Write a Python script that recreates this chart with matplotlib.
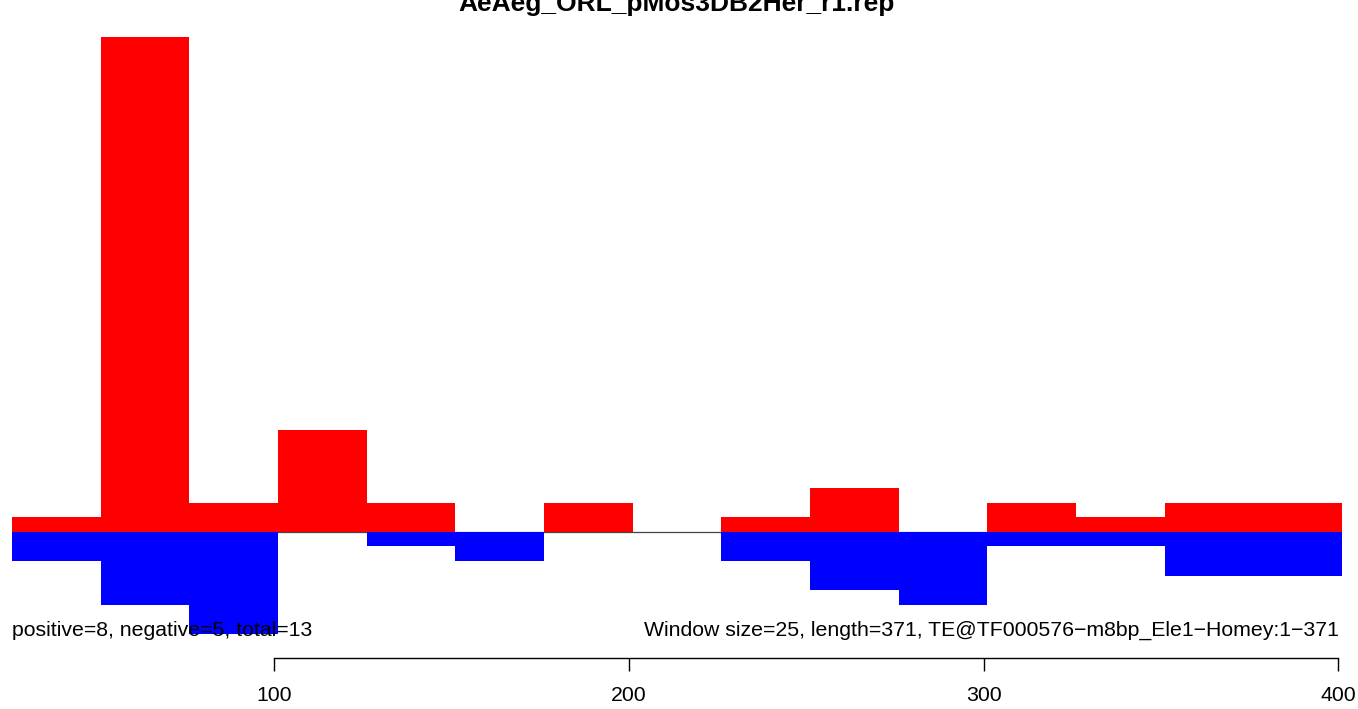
import numpy as np
import matplotlib
matplotlib.use("Agg")
import matplotlib.pyplot as plt

plt.rcParams["font.family"] = ["Liberation Sans", "DejaVu Sans"]

# window starts (bp), window size 25
starts = [26, 51, 76, 101, 126, 151, 176, 201, 226, 251, 276, 301, 326, 351, 376]
positive = [1, 34, 2, 7, 2, 0, 2, 0, 1, 3, 0, 2, 1, 2, 2]
negative = [2, 5, 7, 0, 1, 2, 0, 0, 2, 4, 5, 1, 1, 3, 3]
window = 25
title = "AeAeg_ORL_pMos3DB2Her_r1.rep"
left_note = "positive=8, negative=5, total=13"
right_note = "Window size=25, length=371, TE@TF000576\u2212m8bp_Ele1\u2212Homey:1\u2212371"
xticks = [100, 200, 300, 400]

W, H = 1358, 709
fig = plt.figure(figsize=(W / 100, H / 100), dpi=100)
ax = fig.add_axes([12 / W, (H - 658) / H, 1330 / W, 621 / H])

ax.axhline(0, color="#444444", lw=0.9, zorder=1)
ax.bar(starts, positive, width=window, align="edge", color="red", linewidth=0, zorder=2)
ax.bar(starts, [-v for v in negative], width=window, align="edge", color="blue", linewidth=0, zorder=2)

ax.set_xlim(26, 401)
ax.set_ylim(-8.66, 34)

for s in ["top", "right", "left"]:
    ax.spines[s].set_visible(False)
ax.spines["bottom"].set_bounds(100, 400)
ax.spines["bottom"].set_linewidth(1.0)
ax.set_yticks([])
ax.set_xticks(xticks)
ax.tick_params(axis="x", direction="out", length=9, width=1.0, pad=11, labelsize=15.3)

ax.text(26, -7.15, left_note, ha="left", va="baseline", fontsize=15.3, zorder=3)
ax.text(400, -7.15, right_note, ha="right", va="baseline", fontsize=15.3, zorder=3)

fig.text(0.4985, 1 - 11 / H, title, ha="center", va="baseline", fontsize=19, fontweight="bold")

fig.savefig("out.png", dpi=100)
